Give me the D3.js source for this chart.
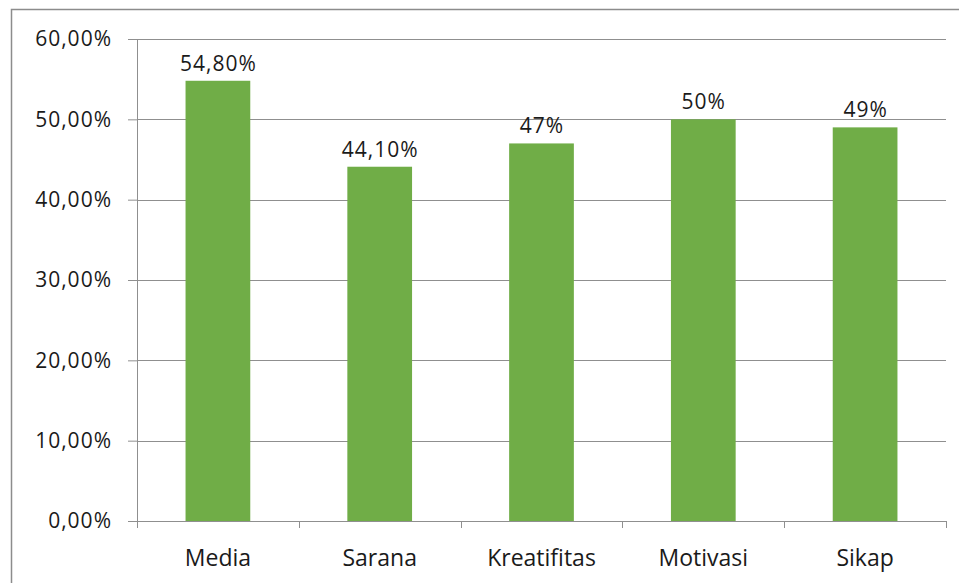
<!DOCTYPE html>
<html>
<head>
<meta charset="utf-8">
<script src="https://cdn.jsdelivr.net/npm/d3@7"></script>
<style>
	body { margin: 0; background: #fff; }
	svg { display: block; }
	text { font-family: "Open Sans", "Liberation Sans", sans-serif; fill: #1a1a1a; }
</style>
</head>
<body>
<div id="chart"></div>
<script>
//Data
var categories = ["Media", "Sarana", "Kreatifitas", "Motivasi", "Sikap"];
var values = [0.548, 0.441, 0.47, 0.50, 0.49];
var valueLabels = ["54,80%", "44,10%", "47%", "50%", "49%"];
var yTicks = [0, 0.1, 0.2, 0.3, 0.4, 0.5, 0.6];

var W = 959, H = 583;
var margin = { top: 39, right: 13, bottom: 62, left: 137 };
var width = W - margin.left - margin.right;
var height = H - margin.top - margin.bottom;

var root = d3.select("#chart").append("svg")
	.attr("width", W)
	.attr("height", H);

//outer frame (right / bottom edges are cut off in the picture)
root.append("path")
	.attr("d", "M11.5," + H + "V9.5H" + W)
	.attr("fill", "none")
	.attr("stroke", "#8c8c8c")
	.attr("stroke-width", 1.5);

var svg = root.append("g")
	.attr("transform", "translate(" + margin.left + "," + margin.top + ")");

//Scales
var x = d3.scaleBand()
	.domain(categories)
	.range([0, width])
	.padding(0);

var y = d3.scaleLinear()
	.domain([0, 0.6])
	.range([height, 0]);

var fmt = function(d) { return d3.format(".2f")(d * 100).replace(".", ",") + "%"; };

//gridlines
svg.append("g")
	.selectAll("line")
	.data(yTicks.slice(1))
	.enter()
	.append("line")
	.attr("x1", 0)
	.attr("x2", width)
	.attr("y1", function(d) { return Math.round(y(d)) + 0.5; })
	.attr("y2", function(d) { return Math.round(y(d)) + 0.5; })
	.attr("stroke", "#8f8f8f")
	.attr("stroke-width", 1);

//bars
var barW = x.bandwidth() * 0.4;
svg.selectAll(".bar")
	.data(values)
	.enter()
	.append("rect")
	.attr("class", "bar")
	.attr("x", function(d, i) { return x(categories[i]) + (x.bandwidth() - barW) / 2; })
	.attr("y", function(d) { return y(d); })
	.attr("width", barW)
	.attr("height", function(d) { return height - y(d); })
	.attr("fill", "#70ad47");

//data labels
svg.selectAll(".vlabel")
	.data(values)
	.enter()
	.append("text")
	.attr("class", "vlabel")
	.attr("x", function(d, i) { return x(categories[i]) + x.bandwidth() / 2 + 0.5; })
	.attr("y", function(d) { return y(d) - 10; })
	.attr("text-anchor", "middle")
	.attr("font-size", "21px")
	.attr("letter-spacing", "1px")
	.text(function(d, i) { return valueLabels[i]; });

//y axis
var yAxis = svg.append("g")
	.attr("class", "y axis")
	.call(d3.axisLeft(y).tickValues(yTicks).tickFormat(fmt).tickSize(9).tickPadding(16));
yAxis.select(".domain").attr("stroke", "#8f8f8f").attr("d", "M0.5,0V" + height);
yAxis.selectAll(".tick line").attr("stroke", "#8f8f8f");
yAxis.selectAll(".tick text")
	.attr("font-size", "21px")
	.attr("letter-spacing", "1px")
	.attr("font-family", null)
	.attr("fill", "#1a1a1a");

//x axis
var xAxis = svg.append("g")
	.attr("class", "x axis")
	.attr("transform", "translate(0," + height + ")")
	.call(d3.axisBottom(x).tickSize(0).tickPadding(29));
xAxis.select(".domain").attr("stroke", "#8f8f8f").attr("d", "M0," + 0.5 + "H" + width);
xAxis.selectAll(".tick text")
	.attr("font-size", "23px")
	.attr("font-family", null)
	.attr("fill", "#1a1a1a");

//category boundary ticks
svg.append("g")
	.selectAll("line")
	.data(d3.range(categories.length + 1))
	.enter()
	.append("line")
	.attr("x1", function(i) { return Math.round(i * x.step()) + 0.5; })
	.attr("x2", function(i) { return Math.round(i * x.step()) + 0.5; })
	.attr("y1", height)
	.attr("y2", height + 7)
	.attr("stroke", "#8f8f8f");
</script>
</body>
</html>
